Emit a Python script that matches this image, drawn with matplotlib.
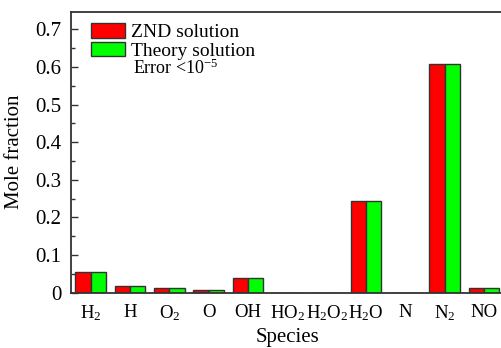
import numpy as np
import matplotlib
matplotlib.use("Agg")
import matplotlib.pyplot as plt
from matplotlib.ticker import MultipleLocator

plt.rcParams["font.family"] = ["Liberation Serif", "DejaVu Serif"]
plt.rcParams["mathtext.fontset"] = "custom"
plt.rcParams["mathtext.rm"] = "Liberation Serif"
plt.rcParams["mathtext.it"] = "Liberation Serif:italic"

species = ["H$_2$", "H", "O$_2$", "O", "OH", "HO$_2$", "H$_2$O$_2$", "H$_2$O", "N", "N$_2$", "NO"]
znd = [0.055, 0.0175, 0.0115, 0.006, 0.038, 0.0, 0.0, 0.243, 0.0, 0.608, 0.013]
theory = [0.055, 0.0175, 0.0115, 0.006, 0.038, 0.0, 0.0, 0.243, 0.0, 0.608, 0.013]

fig = plt.figure(figsize=(5.01, 3.48), dpi=100)
ax = fig.add_axes([0.1417, 0.159, 0.8637, 0.8075])

x = np.arange(len(species))
w = 0.39
ax.bar(x - w / 2, znd, w, color="#ff0000", edgecolor="#333333", linewidth=1.0, label="ZND solution")
ax.bar(x + w / 2, theory, w, color="#00ff00", edgecolor="#333333", linewidth=1.0, label="Theory solution")

ax.set_xlim(-0.5, 10.5)
ax.set_ylim(0, 0.747)
ax.set_xticks(x)
ax.set_xticklabels(species, fontsize=13.5)
ax.tick_params(axis="x", length=0, pad=8)

ax.yaxis.set_major_locator(MultipleLocator(0.1))
ax.yaxis.set_minor_locator(MultipleLocator(0.05))
ax.set_yticks(np.arange(0, 0.71, 0.1))
ax.set_yticklabels(["0", "0.1", "0.2", "0.3", "0.4", "0.5", "0.6", "0.7"], fontsize=15)
ax.tick_params(axis="y", which="major", direction="in", length=5, width=1, color="#333333", pad=7)
ax.tick_params(axis="y", which="minor", direction="in", length=3, width=1, color="#333333")

for s in ["left", "top", "bottom"]:
    ax.spines[s].set_color("#333333")
    ax.spines[s].set_linewidth(1.3)
ax.spines["right"].set_visible(False)

ax.set_xlabel("Species", fontsize=15, labelpad=3)
ax.set_ylabel("Mole fraction", fontsize=15)
ax.yaxis.set_label_coords(-0.108, 0.5)

ax.legend(loc="upper left", bbox_to_anchor=(0.02, 1.0), frameon=False, fontsize=14,
          handlelength=1.75, handleheight=0.75, handletextpad=0.3, labelspacing=0.05,
          borderaxespad=0.2)
ax.text(0.143, 0.80, "Error <10$^{-5}$", transform=ax.transAxes, fontsize=13, va="center")

plt.savefig("out.png", dpi=100)
